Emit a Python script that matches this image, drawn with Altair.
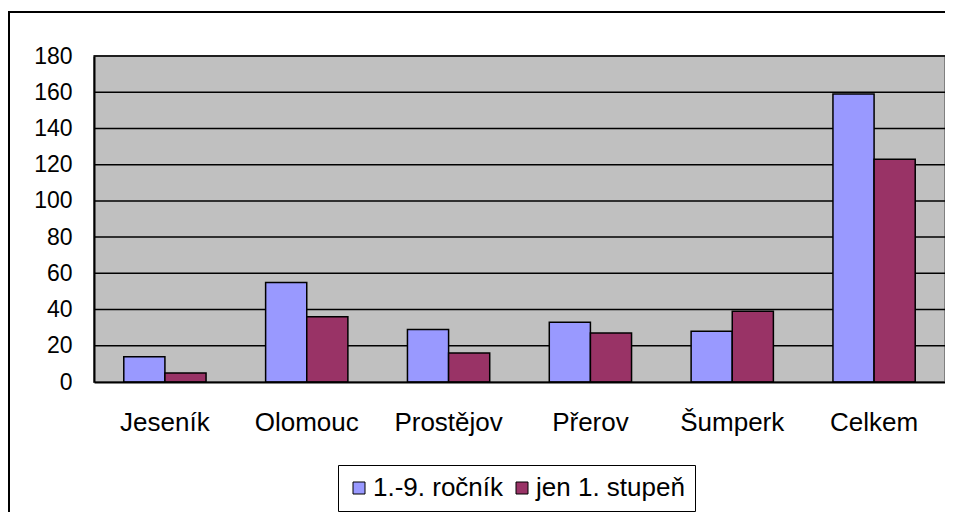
import altair as alt
import pandas as pd

categories = ["Jeseník", "Olomouc", "Prostějov", "Přerov", "Šumperk", "Celkem"]
series = ["1.-9. ročník", "jen 1. stupeň"]
values_all = [14, 55, 29, 33, 28, 159]
values_first = [5, 36, 16, 27, 39, 123]
y_ticks = [0, 20, 40, 60, 80, 100, 120, 140, 160, 180]
colors = ["#9999FF", "#993366"]

rows = []
for c, a, b in zip(categories, values_all, values_first):
    rows.append({"cat": c, "series": series[0], "value": a})
    rows.append({"cat": c, "series": series[1], "value": b})
df = pd.DataFrame(rows)
grid_df = pd.DataFrame({"value": y_ticks[1:]})

W, H = 851, 326
FONT = "Liberation Sans"

yscale = alt.Scale(domain=[0, 180], nice=False)
yaxis = alt.Axis(title=None, values=y_ticks, grid=False, ticks=False,
                 domain=True, domainColor="black", domainWidth=2, zindex=1,
                 labelFontSize=23, labelPadding=22, labelColor="black",
                 labelFont=FONT)

one = pd.DataFrame({"a": [0]})
frame_left = alt.Chart(one).mark_rule(color="black", strokeWidth=2).encode(
    x=alt.value(-85), y=alt.value(-44), y2=alt.value(H + 300),
)
frame_top = alt.Chart(one).mark_rule(color="black", strokeWidth=2).encode(
    y=alt.value(-44), x=alt.value(-86), x2=alt.value(W + 200),
)

plot_bg = alt.Chart(one).mark_rect(
    fill="#C0C0C0", stroke="#808080", strokeWidth=2
).encode(
    x=alt.value(0), x2=alt.value(W), y=alt.value(0), y2=alt.value(H),
)

grid = alt.Chart(grid_df).mark_rule(color="black", strokeWidth=1.5).encode(
    y=alt.Y("value:Q", scale=yscale, axis=yaxis),
    x=alt.value(0), x2=alt.value(W),
)

bars = alt.Chart(df).mark_bar(stroke="black", strokeWidth=1.5, opacity=1).encode(
    x=alt.X("cat:N", sort=categories,
            scale=alt.Scale(paddingInner=0.42, paddingOuter=0.21),
            axis=alt.Axis(title=None, labelAngle=0, ticks=False, domain=True,
                          domainColor="black", domainWidth=2, grid=False, zindex=1,
                          labelFontSize=26, labelPadding=27, labelColor="black",
                          labelFont=FONT)),
    xOffset=alt.XOffset("series:N", sort=series,
                        scale=alt.Scale(paddingInner=0, paddingOuter=0)),
    y=alt.Y("value:Q", scale=yscale, axis=yaxis),
    color=alt.Color("series:N", sort=series,
                    scale=alt.Scale(domain=series, range=colors),
                    legend=alt.Legend(title=None, orient="none", legendX=244, legendY=409,
                                      direction="horizontal", strokeColor="black",
                                      padding=10, symbolType="square", symbolSize=144,
                                      symbolStrokeColor="black", symbolStrokeWidth=1,
                                      symbolOpacity=1, labelFontSize=26, labelFont=FONT,
                                      labelColor="black", columnPadding=7,
                                      labelOffset=1, labelLimit=400, symbolOffset=-2)),
)

chart = alt.layer(frame_left, frame_top, plot_bg, grid, bars).properties(
    width=W, height=H,
    autosize=alt.AutoSizeParams(type="none"),
    padding={"left": 86, "top": 48, "right": 0, "bottom": 130},
    background="white",
).configure_view(
    strokeWidth=0
).configure(font=FONT)

chart.save("out.html", embed_options={"renderer": "svg", "actions": False})
